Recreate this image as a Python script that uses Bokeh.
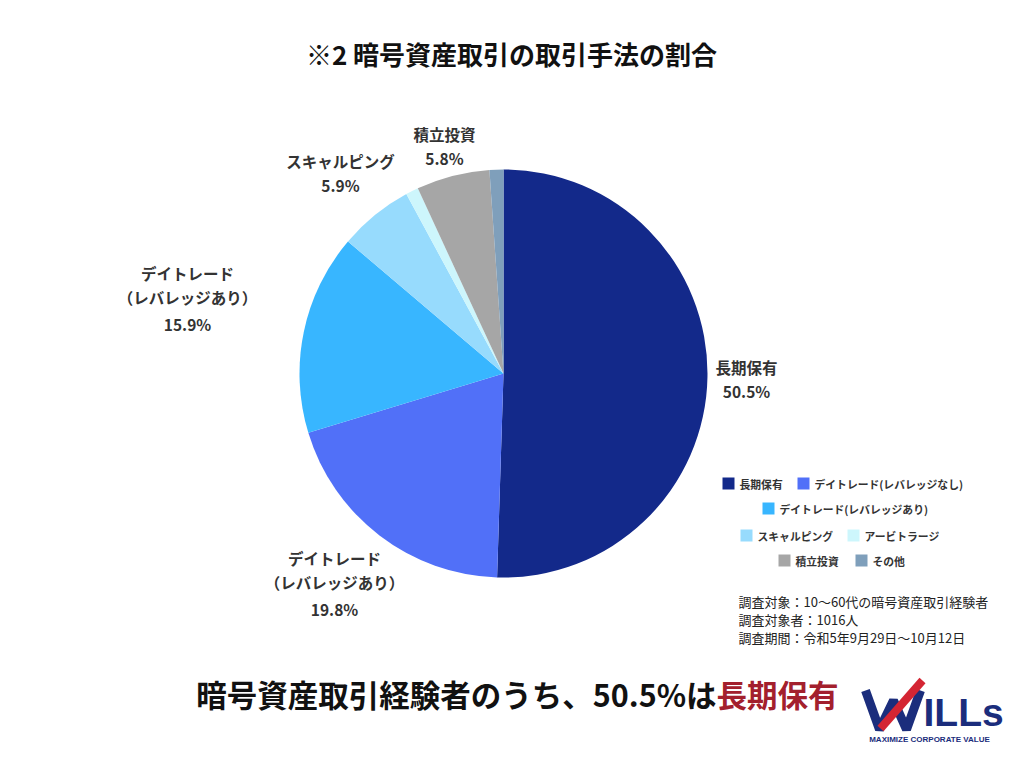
import math
from bokeh.plotting import figure
from bokeh.models import ColumnDataSource, Range1d
from bokeh.core.properties import value
from bokeh.embed import file_html
from bokeh.resources import INLINE

# ---------------- data ----------------
categories = ["長期保有", "デイトレード(レバレッジなし)", "デイトレード(レバレッジあり)",
              "スキャルピング", "アービトラージ", "積立投資", "その他"]
shares = [50.5, 19.8, 15.9, 5.9, 1.0, 5.8, 1.1]
colors = ["#13298a", "#5170f8", "#38b6ff", "#97dbfd", "#cdf6fc", "#a6a6a6", "#7f9fbb"]

title_text = "※2 暗号資産取引の取引手法の割合"
headline_black = "暗号資産取引経験者のうち、50.5%は"
headline_red = "長期保有"
notes = ["調査対象：10〜60代の暗号資産取引経験者", "調査対象者：1016人", "調査期間：令和5年9月29日〜10月12日"]

# slice labels as printed on the chart (name lines, value line)
slice_label_lines = [
    ["長期保有"],
    ["デイトレード", "（レバレッジあり）"],
    ["デイトレード", "（レバレッジあり）"],
    ["スキャルピング"],
    [],
    ["積立投資"],
    [],
]

W, H = 1024, 768
FONT = "Noto Sans CJK JP"


def Y(y):
    return H - y


p = figure(width=W, height=H, output_backend="svg", toolbar_location=None,
           x_range=Range1d(0, W), y_range=Range1d(0, H),
           x_axis_location=None, y_axis_location=None, min_border=0)
p.grid.visible = False
p.outline_line_color = None
p.background_fill_color = "white"
p.border_fill_color = "white"

# ---------------- pie ----------------
cx, cy, r = 503, 373, 204
total = sum(shares)
starts, ends = [], []
cum = 0.0
for s in shares:
    a0 = math.pi / 2 - 2 * math.pi * cum / total
    cum += s
    a1 = math.pi / 2 - 2 * math.pi * cum / total
    starts.append(a1)
    ends.append(a0)
pie_src = ColumnDataSource(dict(x=[cx] * len(shares), y=[Y(cy)] * len(shares),
                                start=starts, end=ends, color=colors))
p.wedge(x="x", y="y", radius=r, radius_units="data", start_angle="start", end_angle="end",
        fill_color="color", line_color=None, source=pie_src)

# ---------------- slice labels ----------------
label_pos = {0: (746, 366), 1: (334, 557), 2: (187, 272), 3: (340, 160), 5: (444, 133)}
lx, ly, lt = [], [], []
for i, (x0, y0) in label_pos.items():
    lines = slice_label_lines[i] + [f"{shares[i]:.1f}%"]
    for k, t in enumerate(lines):
        extra = 2 if (k == len(lines) - 1 and len(lines) > 2) else 0
        lx.append(x0)
        ly.append(Y(y0 + k * 24.5 + extra))
        lt.append(t)
p.text(x=lx, y=ly, text=lt, text_font=value(FONT), text_font_style="bold",
       text_font_size="15.5px", text_color="#333333", text_align="center", text_baseline="middle")

# ---------------- title ----------------
p.text(x=[511], y=[Y(53)], text=[title_text], text_font=value(FONT), text_font_style="bold",
       text_font_size="26px", text_color="#111111", text_align="center", text_baseline="middle")

# ---------------- legend ----------------
# (square x, row y) for each category
leg_sq_x = [728, 803, 768, 746, 853, 784, 861]
leg_row_y = [483, 483, 508, 535, 535, 560, 560]
p.rect(x=leg_sq_x, y=[Y(v) for v in leg_row_y], width=12, height=12,
       fill_color=colors, line_color=None)
p.text(x=[v + 11 for v in leg_sq_x], y=[Y(v) for v in leg_row_y], text=categories,
       text_font=value(FONT), text_font_style="bold", text_font_size="10.8px",
       text_color="#333333", text_align="left", text_baseline="middle")

# ---------------- notes ----------------
p.text(x=[738] * 3, y=[Y(601), Y(619), Y(637)], text=notes, text_font=value(FONT),
       text_font_size="13px", text_color="#222222", text_align="left", text_baseline="middle")

# ---------------- headline ----------------
split_x = 716
p.text(x=[split_x], y=[Y(693)], text=[headline_black], text_font=value(FONT), text_font_style="bold",
       text_font_size="30.5px", text_color="#111111", text_align="right", text_baseline="middle")
p.text(x=[split_x], y=[Y(693)], text=[headline_red], text_font=value(FONT), text_font_style="bold",
       text_font_size="30.5px", text_color="#a3202d", text_align="left", text_baseline="middle")

# ---------------- logo ----------------
p.line(x=[865, 879, 893, 906, 920], y=[Y(690), Y(729), Y(700), Y(729), Y(690)],
       line_color="#1b2d7c", line_width=9)
p.line(x=[880, 922], y=[Y(728), Y(680)], line_color="#d42533", line_width=8)
p.text(x=[923], y=[Y(712)], text=["ILLs"], text_font=value("Liberation Sans"), text_font_style="bold",
       text_font_size="39px", text_color="#1b2d7c", text_align="left", text_baseline="middle")
p.text(x=[929], y=[Y(739)], text=["MAXIMIZE CORPORATE VALUE"], text_font=value("Liberation Sans"),
       text_font_style="bold", text_font_size="8px", text_color="#1b2d7c",
       text_align="center", text_baseline="middle")

open("out.html", "w").write(file_html(p, INLINE))
